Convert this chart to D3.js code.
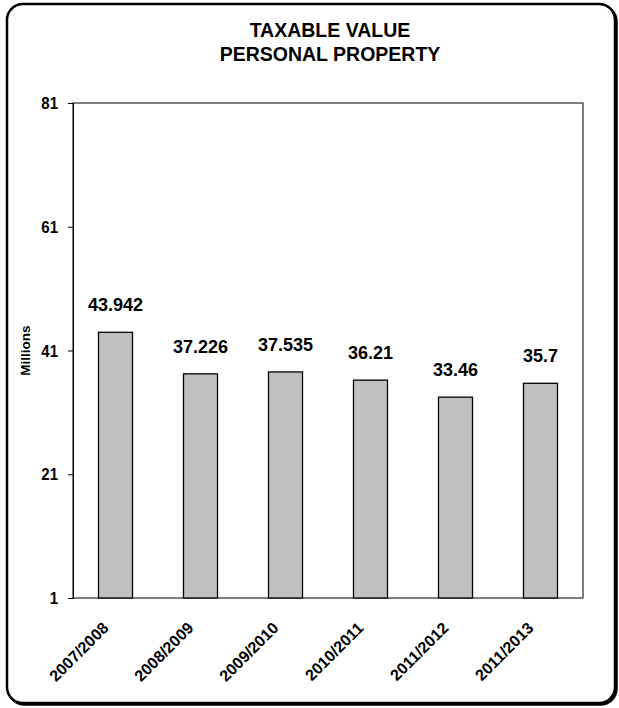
<!DOCTYPE html>
<html>
<head>
<meta charset="utf-8">
<script src="https://cdn.jsdelivr.net/npm/d3@7/dist/d3.min.js"></script>
<style>
  html, body { margin: 0; padding: 0; background: #fff; }
  text { font-family: Arial, "Liberation Sans", sans-serif; font-weight: bold; fill: #000; }
</style>
</head>
<body>
<svg id="chart" width="619" height="708"></svg>
<script>
const categories = ["2007/2008", "2008/2009", "2009/2010", "2010/2011", "2011/2012", "2011/2013"];
const values = [43.942, 37.226, 37.535, 36.21, 33.46, 35.7];
const yTicks = [1, 21, 41, 61, 81];
const titleLines = ["TAXABLE VALUE", "PERSONAL PROPERTY"];
const yAxisTitle = "Millions";

const svg = d3.select("#chart");

// outer frame with a small drop shadow
svg.append("rect")
  .attr("x", 8.5).attr("y", 5.5).attr("width", 608).attr("height", 699)
  .attr("rx", 16).attr("ry", 16)
  .attr("fill", "none").attr("stroke", "#000").attr("stroke-width", 2.5);
svg.append("rect")
  .attr("x", 7).attr("y", 4).attr("width", 608).attr("height", 699)
  .attr("rx", 16).attr("ry", 16)
  .attr("fill", "#fff").attr("stroke", "#000").attr("stroke-width", 2.5);

const plot = { left: 73, right: 583, top: 103, bottom: 598 };

// title
svg.selectAll("text.title").data(titleLines).enter().append("text")
  .attr("class", "title")
  .attr("x", 330).attr("y", (d, i) => 36.5 + i * 24.5)
  .attr("text-anchor", "middle")
  .style("font-size", "19.5px")
  .text(d => d);

const x = d3.scaleBand()
  .domain(categories)
  .range([plot.left, plot.right])
  .paddingInner(0.6)
  .paddingOuter(0.3);

const y = d3.scaleLinear()
  .domain([1, 81])
  .range([plot.bottom, plot.top]);

// plot box
svg.append("rect")
  .attr("x", plot.left).attr("y", plot.top)
  .attr("width", plot.right - plot.left).attr("height", plot.bottom - plot.top)
  .attr("fill", "none").attr("stroke", "#000").attr("stroke-width", 1);
svg.append("line")
  .attr("x1", plot.right).attr("x2", plot.right)
  .attr("y1", plot.top).attr("y2", plot.bottom)
  .attr("stroke", "#777").attr("stroke-width", 1.2);

// bars
svg.selectAll("rect.bar").data(values).enter().append("rect")
  .attr("class", "bar")
  .attr("x", (d, i) => x(categories[i]))
  .attr("y", d => y(d))
  .attr("width", x.bandwidth())
  .attr("height", d => y(1) - y(d))
  .attr("fill", "#c0c0c0")
  .attr("stroke", "#000").attr("stroke-width", 1.3);

// value labels
svg.selectAll("text.val").data(values).enter().append("text")
  .attr("class", "val")
  .attr("x", (d, i) => x(categories[i]) + x.bandwidth() / 2)
  .attr("y", d => y(d) - 21)
  .attr("text-anchor", "middle")
  .style("font-size", "18px")
  .text(d => d);

// y axis
const yAxis = d3.axisLeft(y).tickValues(yTicks).tickSize(5).tickPadding(10).tickFormat(d3.format("d"));
const gy = svg.append("g").attr("transform", `translate(${plot.left},0)`).call(yAxis);
gy.select(".domain").attr("stroke", "#000");
gy.selectAll(".tick line").attr("stroke", "#000");
gy.selectAll(".tick text")
  .attr("font-family", null)
  .style("font-size", "15px")
  .attr("transform", "scale(1,1.15)");

// x axis labels, rotated
const xAxis = d3.axisBottom(x).tickSize(0).tickPadding(0);
const gx = svg.append("g").attr("transform", `translate(0,${plot.bottom})`).call(xAxis);
gx.select(".domain").remove();
gx.selectAll(".tick text")
  .attr("font-family", null)
  .style("font-size", "16px")
  .attr("text-anchor", "end")
  .attr("y", 0)
  .attr("dy", null)
  .attr("transform", "translate(-6,31) rotate(-45)");

// y axis title
svg.append("text")
  .attr("transform", `translate(30,${(plot.top + plot.bottom) / 2}) rotate(-90)`)
  .attr("text-anchor", "middle")
  .style("font-size", "13.5px")
  .text(yAxisTitle);
</script>
</body>
</html>
